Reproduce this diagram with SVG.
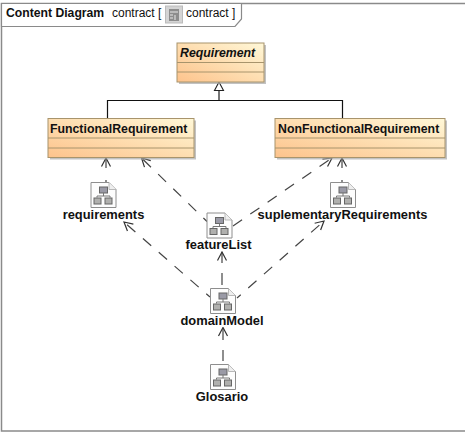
<svg xmlns="http://www.w3.org/2000/svg" width="466" height="432" viewBox="0 0 466 432">
<defs>
<linearGradient id="cls" x1="0" y1="1" x2="1" y2="0">
<stop offset="0" stop-color="#fdc38c"/>
<stop offset="0.55" stop-color="#fee0b4"/>
<stop offset="1" stop-color="#fff8d8"/>
</linearGradient>
<marker id="open" viewBox="-10 -6 11 12" refX="0" refY="0" markerWidth="11" markerHeight="12" markerUnits="userSpaceOnUse" orient="auto">
<path d="M-8.500,-4.500 L0,0 L-8.500,4.500" fill="none" stroke="#333" stroke-width="1.200"/>
</marker>
<g id="pkg">
<path d="M0,0 H18 L25,7 V25 H0 Z" fill="#fdfdfd" stroke="#8e8e8e" stroke-width="1"/>
<path d="M18,0 V7 H25" fill="#eee" stroke="#aaa" stroke-width="0.800"/>
<rect x="8.500" y="4.500" width="8" height="6" fill="#9a9aa6" stroke="#666"/>
<path d="M12.500,10.500 V13.500 M6,15 V13.500 H19 V15" fill="none" stroke="#777"/>
<rect x="3" y="15.500" width="7" height="6" fill="#b0b0ae" stroke="#666"/>
<rect x="14" y="15.500" width="7" height="6" fill="#b0b0ae" stroke="#666"/>
</g>
</defs>
<style>
text{font-family:"Liberation Sans",Arial,sans-serif;font-size:12px;fill:#111}
.t{font-weight:bold;font-size:12.200px}
.cn{font-weight:bold;font-size:12.300px}
.c{fill:url(#cls);stroke:#a8946c;stroke-width:1}
.dv{fill:none;stroke:#a8946c;stroke-width:1}
.sh{fill:#a8a8a8;opacity:.7}
.d{fill:none;stroke:#444;stroke-width:1.200;stroke-dasharray:11 10;marker-end:url(#open)}
.o{stroke-dashoffset:6}
.g{fill:none;stroke:#111;stroke-width:1.200}
.l{text-anchor:middle;font-weight:bold;font-size:12.900px}
</style>
<rect width="466" height="432" fill="#fff"/>
<g id="frame">
<path d="M465,3.500 H1.500 V431 H465" fill="#fff" stroke="#8a8a8a" stroke-width="1.500"/>
<path d="M1.500,3.500 H241.500 V19 L235,26.500 H1.500 Z" fill="#fff" stroke="#8a8a8a" stroke-width="1.200"/>
<text x="6" y="17" class="t">Content Diagram</text>
<text x="112" y="17">contract [</text>
<rect x="165.500" y="6" width="17" height="17" fill="#d4d4d4" stroke="#bbb"/>
<rect x="169" y="9" width="10" height="12" fill="#8d8d8d"/>
<path d="M170,12 H178 M170,15 H173 M170,18 H173 M175,15 V20" stroke="#e8e8e8" fill="none"/>
<text x="186" y="17">contract ]</text>
</g>
<g id="connectors">
<path class="g" d="M107.500,118 V100.500 H342.500 V118"/>
<path d="M219,100 V90.500" fill="none" stroke="#555" stroke-width="1.600"/>
<path d="M219,82 L223.500,90.500 H214.500 Z" fill="#fff" stroke="#222" stroke-width="1.100"/>
<path class="d" d="M106,182 V158" style="stroke-dasharray:2 12 10 0"/>
<path class="d o" d="M207,221.500 L141.500,158"/>
<path class="d" d="M233,226 L332,158"/>
<path class="d" d="M342,182 V158" style="stroke-dasharray:2 12 10 0"/>
<path class="d o" d="M210,297 L124,222"/>
<path class="d" d="M222,285 V252" style="stroke-dasharray:12 10"/>
<path class="d o" d="M237,298 L324,221"/>
<path class="d" d="M223,361 V327.500"/>
</g>
<g id="Requirement">
<rect class="sh" x="179" y="45" width="87" height="39"/>
<rect class="c" x="177" y="43" width="87" height="39"/>
<path class="dv" d="M177,62.500 H264 M177,72 H264"/>
<text x="180" y="57" class="cn" font-style="italic">Requirement</text>
</g>
<g id="FunctionalRequirement">
<rect class="sh" x="50" y="120.500" width="146" height="39"/>
<rect class="c" x="48" y="118.500" width="146" height="39"/>
<path class="dv" d="M48,138 H194 M48,148 H194"/>
<text x="50" y="133" class="cn">FunctionalRequirement</text>
</g>
<g id="NonFunctionalRequirement">
<rect class="sh" x="277" y="120.500" width="170" height="39"/>
<rect class="c" x="275" y="118.500" width="170" height="39"/>
<path class="dv" d="M275,138 H445 M275,148 H445"/>
<text x="278" y="133" class="cn">NonFunctionalRequirement</text>
</g>
<g id="requirements">
<use href="#pkg" x="91" y="182.500"/>
<text x="103.500" y="219" class="l">requirements</text>
</g>
<g id="featureList">
<use href="#pkg" x="207" y="213"/>
<text x="218.500" y="249" class="l">featureList</text>
</g>
<g id="suplementaryRequirements">
<use href="#pkg" x="330.500" y="182.500"/>
<text x="342.500" y="219" class="l">suplementaryRequirements</text>
</g>
<g id="domainModel">
<use href="#pkg" x="210.500" y="288.500"/>
<text x="222" y="325" class="l">domainModel</text>
</g>
<g id="Glosario">
<use href="#pkg" x="210.500" y="364.500"/>
<text x="222" y="401" class="l">Glosario</text>
</g>
</svg>
